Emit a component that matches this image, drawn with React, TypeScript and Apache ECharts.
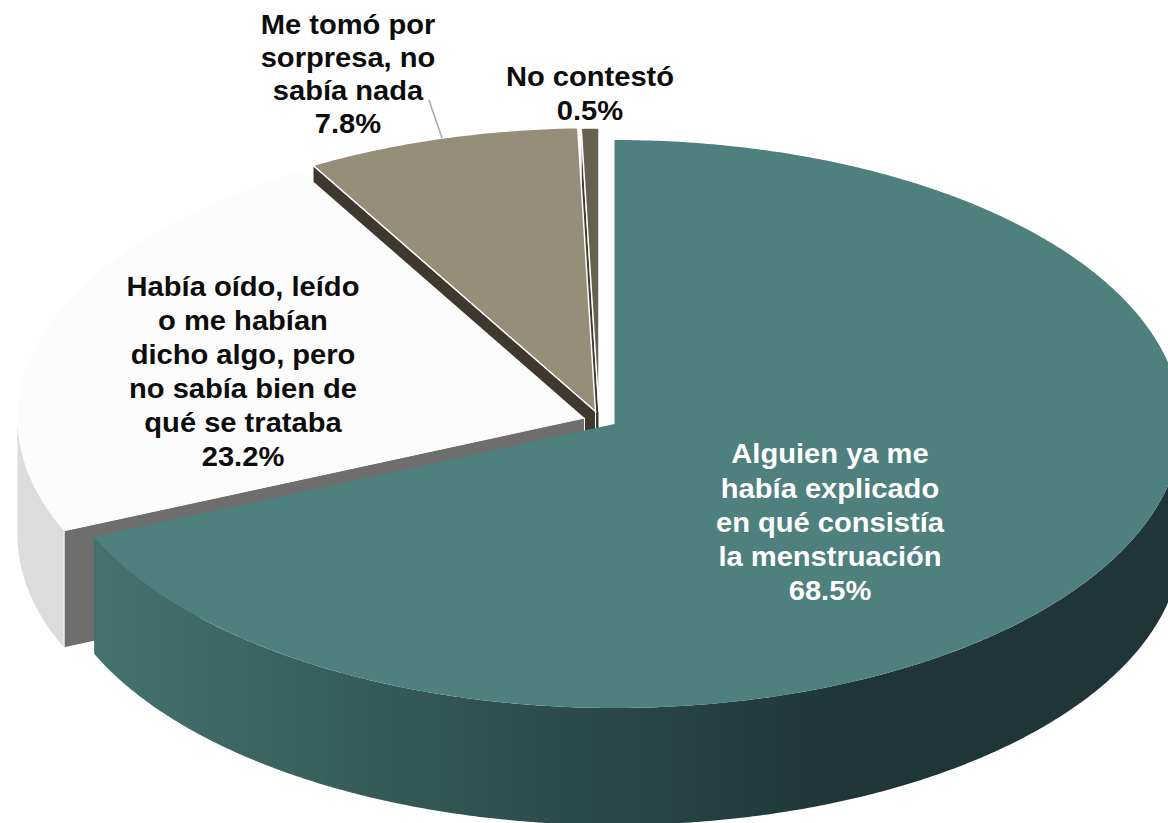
import React, { useEffect, useRef } from "react";
import * as echarts from "echarts";

const categories = [
  "Alguien ya me\nhabía explicado\nen qué consistía\nla menstruación",
  "Había oído, leído\no me habían\ndicho algo, pero\nno sabía bien de\nqué se trataba",
  "Me tomó por\nsorpresa, no\nsabía nada",
  "No contestó",
];
const values = [68.5, 23.2, 7.8, 0.5];

const RX = 567;
const RY = 284;
const DEPTH = 117;
const slices = [
  { cx: 614.5, cy: 424, top: "#4E807D", face: "#4E807D", side: "main", label: [830, 522], lh: 34.3, color: "#FFFFFF", stroke: 0 },
  { cx: 584.5, cy: 418, top: "#FCFCFC", face: "#6E6E6E", side: "#DCDCDC", label: [243, 371], lh: 34, color: "#0D0D0D", stroke: 0 },
  { cx: 595.5, cy: 411.5, top: "#978E7A", face: "#3E382E", side: "#978E7A", label: [348, 73.5], lh: 33, color: "#0D0D0D", stroke: 1.5 },
  { cx: 599, cy: 412, top: "#66604F", face: "#3E382E", side: "#66604F", label: [590, 93], lh: 34.3, color: "#0D0D0D", stroke: 1.5 },
];
const drawOrder = [3, 2, 1, 0];
const total = values.reduce((a, b) => a + b, 0);

function pt(s: any, deg: number, dy = 0): number[] {
  const r = (deg * Math.PI) / 180;
  return [s.cx + RX * Math.sin(r), s.cy - RY * Math.cos(r) + dy];
}
function arc(s: any, a0: number, a1: number, dy = 0): number[][] {
  const out: number[][] = [];
  const n = Math.max(2, Math.ceil(Math.abs(a1 - a0) * 2));
  for (let i = 0; i <= n; i++) out.push(pt(s, a0 + ((a1 - a0) * i) / n, dy));
  return out;
}

export default function App() {
  const ref = useRef<HTMLDivElement>(null);
  useEffect(() => {
    const chart = echarts.init(ref.current!, null, { renderer: "svg" });
    const renderItem = (_p: any, api: any) => {
      const idx = api.value(1) as number;
      const s = slices[idx];
      let start = 0;
      for (let i = 0; i < idx; i++) start += values[i];
      const a0 = (start / total) * 360;
      const a1 = a0 + ((api.value(0) as number) / total) * 360;
      const children: any[] = [];
      // outer wall (front half only)
      const w0 = Math.max(a0, 90);
      const w1 = Math.min(a1, 270);
      if (w1 > w0) {
        const pts = [...arc(s, w0, w1), ...arc(s, w1, w0, DEPTH)];
        const fill =
          s.side === "main"
            ? new echarts.graphic.LinearGradient(1, 0, 0, 0, [
                { offset: 0, color: "#1F3537" },
                { offset: 0.3, color: "#1F3537" },
                { offset: 0.62, color: "#2E504F" },
                { offset: 1, color: "#44736F" },
              ])
            : s.side;
        children.push({ type: "polygon", shape: { points: pts }, style: { fill } });
      }
      // cut face along the start edge
      if (idx > 0) {
        const p = pt(s, a0);
        children.push({
          type: "polygon",
          shape: {
            points: [[s.cx, s.cy], p, [p[0], p[1] + DEPTH], [s.cx, s.cy + DEPTH]],
          },
          style: { fill: s.face, stroke: "#FFFFFF", lineWidth: 1 },
        });
      }
      // top
      children.push({
        type: "polygon",
        shape: { points: [[s.cx, s.cy], ...arc(s, a0, a1)] },
        style: {
          fill: s.top,
          stroke: s.stroke ? "#FFFFFF" : undefined,
          lineWidth: s.stroke,
        },
      });
      if (idx === 2) {
        children.push({
          type: "line",
          shape: { x1: 429, y1: 100, x2: 442, y2: 138 },
          style: { stroke: "#A6A6A6", lineWidth: 1.5 },
        });
      }
      children.push({
        type: "text",
        x: s.label[0],
        y: s.label[1],
        scaleX: 1.04,
        style: {
          text: `${categories[idx]}\n${(api.value(0) as number).toFixed(1)}%`,
          x: 0,
          y: 0,
          align: "center",
          verticalAlign: "middle",
          fontFamily: "Liberation Sans",
          fontWeight: "bold",
          fontSize: 28,
          lineHeight: s.lh,
          fill: s.color,
        },
      });
      return { type: "group", children };
    };
    chart.setOption({
      animation: false,
      backgroundColor: "#FFFFFF",
      series: [
        {
          type: "custom",
          coordinateSystem: "none",
          clip: false,
          renderItem,
          data: drawOrder.map((i) => [values[i], i]),
          silent: true,
        },
      ],
    });
    return () => chart.dispose();
  }, []);
  return (
    <div
      ref={ref}
      style={{ position: "fixed", left: 0, top: 0, width: 1168, height: 823 }}
    />
  );
}
